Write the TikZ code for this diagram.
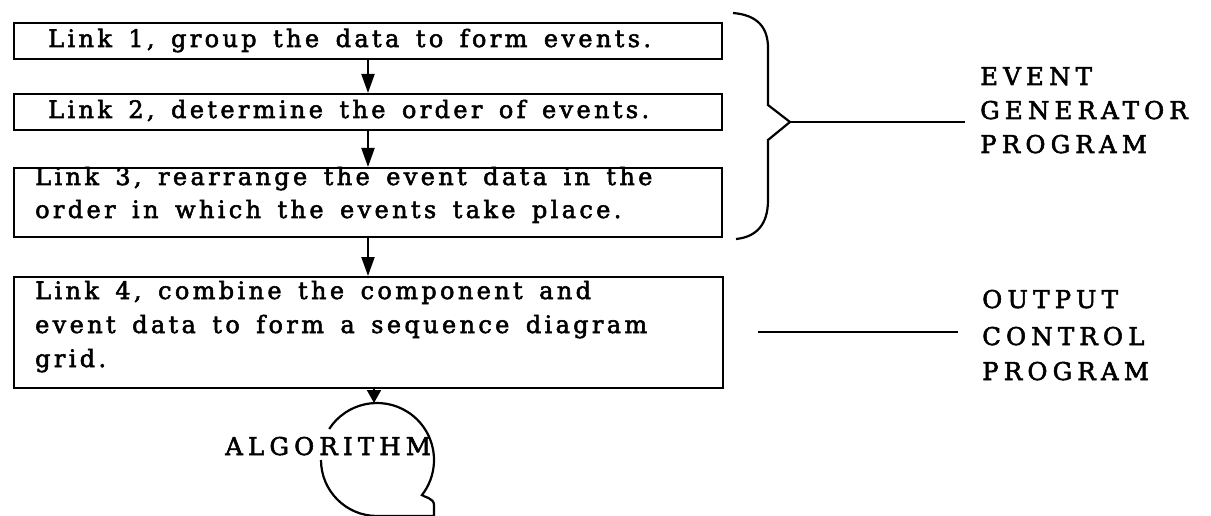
\documentclass[tikz,border=0pt]{standalone}
\usepackage{fontspec}
\usetikzlibrary{arrows.meta}
\newfontfamily\bodyfont[LetterSpace=14,WordSpace=1.5,FakeBold=2.2]{DejaVu Serif}
\newfontfamily\capfont[LetterSpace=21,FakeBold=2.2]{DejaVu Serif}
\begin{document}
\begin{tikzpicture}[x=1pt,y=-1pt,
  boxline/.style={draw=black,line width=2pt},
  txt/.style={anchor=base west,inner sep=0pt,font=\bodyfont\fontsize{24}{33}\selectfont},
  lbl/.style={anchor=base west,inner sep=0pt,font=\capfont\fontsize{24.5}{34}\selectfont},
  conn/.style={line width=2pt,-{Triangle[width=13pt,length=19pt]}},
  plain/.style={line width=2.2pt}]
\useasboundingbox (0,0) rectangle (1211,516);
% boxes
\node[boxline,minimum width=708pt,minimum height=36pt,anchor=north west,inner sep=0pt] (b1) at (13,22) {};
\node[boxline,minimum width=708pt,minimum height=36pt,anchor=north west,inner sep=0pt] (b2) at (13,93) {};
\node[boxline,minimum width=708pt,minimum height=69pt,anchor=north west,inner sep=0pt] (b3) at (13,167) {};
\node[boxline,minimum width=709pt,minimum height=111pt,anchor=north west,inner sep=0pt] (b4) at (13,276) {};
% texts
\node[txt] (t1) at (48,47) {Link 1, group the data to form events.};
\node[txt] (t2) at (48,118) {Link 2, determine the order of events.};
\node[txt] (t3a) at (35,185) {Link 3, rearrange the event data in the};
\node[txt] (t3b) at (35,218) {order in which the events take place.};
\node[txt] (t4a) at (35,299) {Link 4, combine the component and};
\node[txt] (t4b) at (35,333) {event data to form a sequence diagram};
\node[txt] (t4c) at (35,367) {grid.};
% connectors
\draw[conn] (b1.south -| 368,0) -- (b2.north -| 368,0);
\draw[conn] (b2.south -| 368,0) -- (b3.north -| 368,0);
\draw[conn] (b3.south -| 368,0) -- (b4.north -| 368,0);
\coordinate (ctop) at (374,403);
\draw[line width=2pt,-{Triangle[width=14pt,length=13pt]}] (b4.south -| ctop) -- (ctop);
% algorithm symbol
\node[lbl] (alg) at (225,455) {ALGORITHM};
\draw[plain] (377,460) ++(213:57) arc[start angle=213,end angle=398,radius=57]
  .. controls (424,497) and (434,498) .. (434,505) -- (434,516) -- (377,516);
\draw[plain] (377,460) ++(90:56) arc[start angle=90,end angle=180,radius=56];
% brace
\coordinate (tip) at (790,122);
\draw[plain,line join=miter] (733,13) .. controls (758,15) and (768,28) .. (768,48) -- (768,105) -- (tip) -- (768,140) -- (768,200) .. controls (768,225) and (756,237) .. (736,239);
\coordinate (e1) at (965,122);
\draw[plain] (tip) -- (e1);
\node[lbl] (ev1) at (980,85) {EVENT};
\node[lbl] (ev2) at (980,119) {GENERATOR};
\node[lbl] (ev3) at (980,153) {PROGRAM};
\coordinate (o0) at (758,332);
\coordinate (o1) at (958,332);
\draw[plain] (o0) -- (o1);
\node[lbl] (oc1) at (982,308) {OUTPUT};
\node[lbl] (oc2) at (982,345) {CONTROL};
\node[lbl] (oc3) at (982,380) {PROGRAM};
\end{tikzpicture}
\end{document}
